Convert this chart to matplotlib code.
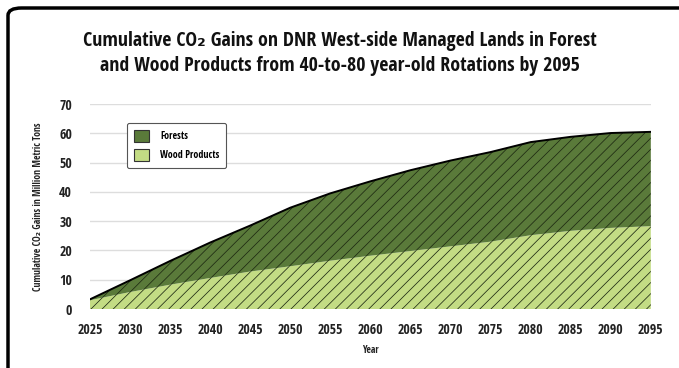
import numpy as np
import matplotlib.pyplot as plt
from matplotlib.patches import Patch, FancyBboxPatch

plt.rcParams['font.family'] = ['Open Sans Condensed', 'DejaVu Sans']
plt.rcParams['hatch.color'] = '#1e2a12'
plt.rcParams['hatch.linewidth'] = 0.55

# datos (millones de toneladas)
anios = [2025, 2030, 2035, 2040, 2045, 2050, 2055, 2060, 2065, 2070, 2075, 2080, 2085, 2090, 2095]
productos_madera = [3.0, 5.8, 8.3, 10.6, 12.8, 14.6, 16.5, 18.2, 19.8, 21.4, 23.0, 25.2, 26.7, 27.7, 28.3]
bosques = [0.3, 4.0, 8.1, 12.1, 15.7, 20.0, 23.0, 25.4, 27.6, 29.3, 30.6, 31.8, 32.1, 32.4, 32.2]

nombres = ['Forests', 'Wood Products']
verde_oscuro = '#5a7a3a'
verde_claro = '#c3dc84'

x = np.array(anios)
madera = np.array(productos_madera)
total = madera + np.array(bosques)

fig = plt.figure(figsize=(6.79, 3.68), dpi=100)
ax = fig.add_axes([0.1325, 0.1603, 0.826, 0.557])

ax.fill_between(x, 0, madera, facecolor=verde_claro, edgecolor='none', hatch='///', zorder=2)
ax.fill_between(x, madera, total, facecolor=verde_oscuro, edgecolor='none', hatch='///', zorder=2)
ax.plot(x, total, color='black', lw=1.4, zorder=3)

ax.set_xlim(2025, 2095)
ax.set_ylim(0, 70)
ax.set_xticks(np.arange(2025, 2096, 5))
ax.set_yticks(np.arange(0, 71, 10))
ax.grid(axis='y', color='#dddddd', lw=1, zorder=0)
ax.set_axisbelow(True)
for s in ax.spines.values():
    s.set_visible(False)
ax.tick_params(length=0, labelsize=10, pad=10)
for t in ax.get_xticklabels() + ax.get_yticklabels():
    t.set_fontweight('bold')
    t.set_color('#222222')
ax.tick_params(axis='y', pad=13)

ax.set_xlabel('Year', fontsize=7, fontweight='bold', labelpad=6, color='#222222')
ax.set_ylabel('Cumulative CO₂ Gains in Million Metric Tons', fontsize=7, fontweight='bold',
              labelpad=11, color='#222222')

handles = [Patch(facecolor=verde_oscuro, edgecolor='#333333', lw=0.8),
           Patch(facecolor=verde_claro, edgecolor='#333333', lw=0.8)]
leg = ax.legend(handles, nombres, loc='upper left', bbox_to_anchor=(0.066, 0.907), borderaxespad=0,
                prop={'weight': 'bold', 'size': 7.2}, frameon=True, fancybox=True,
                edgecolor='#555555', handlelength=1.5, handleheight=1.5, labelspacing=0.65,
                borderpad=0.7, handletextpad=1.1, framealpha=1)
leg.get_frame().set_linewidth(0.8)

fig.text(0.5, 0.855, 'Cumulative CO₂ Gains on DNR West-side Managed Lands in Forest\n'
         'and Wood Products from 40-to-80 year-old Rotations by 2095',
         ha='center', va='center', fontsize=14.3, fontweight='bold', linespacing=1.3, color='#111111')

# marco redondeado que se sale por la derecha y abajo
marco = FancyBboxPatch((8 / 679, -0.1), 1.2, 1.1 - 8 / 368, transform=fig.transFigure,
                       boxstyle='round,pad=0,rounding_size=0.02', facecolor='none',
                       edgecolor='black', lw=2.5, clip_on=False)
fig.patches.append(marco)

fig.savefig('out.png', dpi=100)
